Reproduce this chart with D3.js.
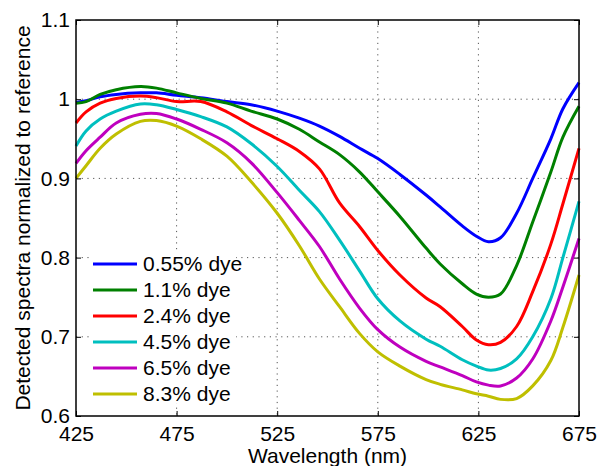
<!DOCTYPE html>
<html lang="en">
<head>
<meta charset="UTF-8">
<title>Detected spectra</title>
<script src="https://d3js.org/d3.v7.min.js"></script>
<style>
    body { margin: 0; background: #fff; }
    text { font-family: "Liberation Sans", Arial, sans-serif; fill: #000; }
    .grid line { stroke: #555; stroke-width: 1px; stroke-dasharray: 1.2,4.5; }
    .axis path { display: none; }
    .axis line { stroke: #000; stroke-width: 1px; }
</style>
</head>
<body>
<svg width="600" height="466"></svg>
<script>
    // wavelengths (nm) sampled along the curves
    const wavelengths = [425, 430, 437, 445, 457, 465, 475, 487, 500, 512, 525, 536, 546, 556,
                         566, 575, 586, 599, 606, 617, 624, 630, 636, 644, 652, 661, 667, 675];

    const labels = ["0.55% dye", "1.1% dye", "2.4% dye", "4.5% dye", "6.5% dye", "8.3% dye"];
    const colors = ["#0000ff", "#008000", "#ff0000", "#00bfbf", "#bf00bf", "#bfbf00"];

    const dye055 = [0.996, 0.998, 1.003, 1.006, 1.008, 1.008, 1.005, 1.002, 0.997, 0.993, 0.985, 0.976, 0.966, 0.953,
                    0.938, 0.925, 0.905, 0.879, 0.864, 0.840, 0.827, 0.820, 0.825, 0.856, 0.900, 0.950, 0.988, 1.021];
    const dye11  = [0.995, 0.997, 1.006, 1.012, 1.016, 1.014, 1.008, 1.001, 0.995, 0.985, 0.975, 0.962, 0.946, 0.930,
                    0.908, 0.883, 0.852, 0.812, 0.792, 0.767, 0.754, 0.750, 0.754, 0.790, 0.845, 0.908, 0.952, 0.991];
    const dye24  = [0.970, 0.984, 0.995, 1.001, 1.004, 1.002, 0.997, 0.997, 0.984, 0.967, 0.950, 0.934, 0.912, 0.869,
                    0.839, 0.809, 0.778, 0.749, 0.738, 0.713, 0.696, 0.690, 0.693, 0.713, 0.757, 0.817, 0.868, 0.938];
    const dye45  = [0.941, 0.960, 0.975, 0.985, 0.994, 0.993, 0.987, 0.978, 0.965, 0.944, 0.915, 0.885, 0.858, 0.822,
                    0.783, 0.748, 0.720, 0.697, 0.688, 0.671, 0.663, 0.658, 0.660, 0.672, 0.700, 0.748, 0.800, 0.871];
    const dye65  = [0.919, 0.935, 0.952, 0.970, 0.981, 0.982, 0.975, 0.962, 0.945, 0.920, 0.882, 0.847, 0.814, 0.773,
                    0.736, 0.709, 0.687, 0.669, 0.662, 0.651, 0.643, 0.639, 0.638, 0.648, 0.672, 0.720, 0.763, 0.824];
    const dye83  = [0.900, 0.916, 0.938, 0.956, 0.972, 0.973, 0.966, 0.950, 0.928, 0.896, 0.856, 0.815, 0.773, 0.738,
                    0.704, 0.681, 0.663, 0.646, 0.640, 0.633, 0.628, 0.625, 0.621, 0.622, 0.638, 0.670, 0.712, 0.778];

    const series = [dye055, dye11, dye24, dye45, dye65, dye83];

    const xTicks = [425, 475, 525, 575, 625, 675];
    const yTicks = [0.6, 0.7, 0.8, 0.9, 1, 1.1];

    const plotL = 76, plotR = 579, plotT = 20, plotB = 416;

    const x = d3.scaleLinear().domain([425, 675]).range([plotL, plotR]);
    const y = d3.scaleLinear().domain([0.6, 1.1]).range([plotB, plotT]);

    const svg = d3.select("svg");

    // dotted grid
    const grid = svg.append("g").attr("class", "grid");
    grid.selectAll(".v").data(xTicks.slice(1, -1)).enter().append("line")
        .attr("x1", d => x(d)).attr("x2", d => x(d))
        .attr("y1", plotT).attr("y2", plotB);
    grid.selectAll(".h").data(yTicks.slice(1, -1)).enter().append("line")
        .attr("x1", plotL).attr("x2", plotR)
        .attr("y1", d => y(d)).attr("y2", d => y(d));

    // legend background hides grid behind it
    svg.append("rect")
        .attr("x", 90).attr("y", 251).attr("width", 146).attr("height", 152)
        .attr("fill", "#fff");

    // curves
    const line = d3.line()
        .x((d, i) => x(wavelengths[i]))
        .y(d => y(d))
        .curve(d3.curveCatmullRom.alpha(0.5));

    svg.selectAll(".curve")
        .data(series)
        .enter()
        .append("path")
        .attr("class", "curve")
        .attr("fill", "none")
        .attr("stroke", (d, i) => colors[i])
        .attr("stroke-width", 3)
        .attr("stroke-linejoin", "round")
        .attr("d", line);

    // axes, ticks pointing inward on all four sides
    svg.append("g").attr("class", "axis")
        .attr("transform", `translate(0,${plotB})`)
        .call(d3.axisBottom(x).tickValues(xTicks).tickSize(-5).tickPadding(10).tickFormat(d3.format("d")))
        .selectAll("text").attr("font-size", 21);

    svg.append("g").attr("class", "axis")
        .attr("transform", `translate(${plotL},0)`)
        .call(d3.axisLeft(y).tickValues(yTicks).tickSize(-5).tickPadding(6).tickFormat(d => d === 1 ? "1" : d3.format(".1f")(d)))
        .selectAll("text").attr("font-size", 21);

    svg.append("g").attr("class", "axis")
        .attr("transform", `translate(0,${plotT})`)
        .call(d3.axisTop(x).tickValues(xTicks).tickSize(-5).tickFormat(""));

    svg.append("g").attr("class", "axis")
        .attr("transform", `translate(${plotR},0)`)
        .call(d3.axisRight(y).tickValues(yTicks).tickSize(-5).tickFormat(""));

    svg.append("rect")
        .attr("x", plotL).attr("y", plotT)
        .attr("width", plotR - plotL).attr("height", plotB - plotT)
        .attr("fill", "none").attr("stroke", "#000").attr("stroke-width", 1.5);

    // axis titles
    svg.append("text")
        .attr("x", (plotL + plotR) / 2).attr("y", 463)
        .attr("text-anchor", "middle").attr("font-size", 21)
        .text("Wavelength (nm)");

    svg.append("text")
        .attr("transform", `translate(22,${(plotT + plotB) / 2}) rotate(-90)`)
        .attr("text-anchor", "middle").attr("dominant-baseline", "central")
        .attr("font-size", 21)
        .text("Detected spectra normalized to reference");

    // legend
    const legend = svg.append("g");
    const item = legend.selectAll("g").data(labels).enter().append("g")
        .attr("transform", (d, i) => `translate(93,${264 + i * 26})`);
    item.append("line")
        .attr("x1", 0).attr("x2", 44)
        .attr("stroke", (d, i) => colors[i]).attr("stroke-width", 3);
    item.append("text")
        .attr("x", 50).attr("dy", "0.35em").attr("font-size", 21)
        .text(d => d);
</script>
</body>
</html>
